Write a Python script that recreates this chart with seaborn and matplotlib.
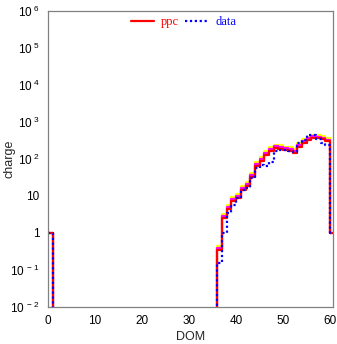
import numpy as np
import pandas as pd
import matplotlib
matplotlib.use("Agg")
import matplotlib.pyplot as plt
import seaborn as sns

# DOM bins 0..60 (bin i spans [i, i+1])
dom = list(range(61))

ppc_nonzero = {0: 1, 36: 0.35, 37: 2.6, 38: 4.4, 39: 7.3, 40: 8.8, 41: 14.5, 42: 19, 43: 32,
               44: 65, 45: 88, 46: 128, 47: 165, 48: 195, 49: 186, 50: 174, 51: 165, 52: 148,
               53: 215, 54: 275, 55: 325, 56: 370, 57: 360, 58: 340, 59: 295, 60: 1}
band2_nonzero = {0: 1, 36: 0.45, 37: 3.3, 38: 5.6, 39: 9.3, 40: 11.2, 41: 18.5, 42: 24, 43: 41,
                 44: 82, 45: 112, 46: 160, 47: 205, 48: 240, 49: 230, 50: 215, 51: 205, 52: 185,
                 53: 265, 54: 340, 55: 400, 56: 450, 57: 440, 58: 415, 59: 360, 60: 1}
band1_nonzero = {0: 1, 36: 0.39, 37: 2.9, 38: 4.9, 39: 8.1, 40: 9.8, 41: 16.1, 42: 21, 43: 36,
                 44: 72, 45: 98, 46: 142, 47: 183, 48: 216, 49: 206, 50: 193, 51: 183, 52: 164,
                 53: 238, 54: 305, 55: 360, 56: 410, 57: 400, 58: 377, 59: 327, 60: 1}
data_nonzero = {0: 1, 36: 0.15, 37: 1.0, 38: 3.5, 39: 5.7, 40: 9, 41: 14.5, 42: 16, 43: 30,
                44: 57, 45: 69, 46: 63, 47: 82, 48: 160, 49: 172, 50: 170, 51: 168, 52: 150,
                53: 270, 54: 325, 55: 445, 56: 445, 57: 340, 58: 265, 59: 240, 60: 1}

xticks = [0, 10, 20, 30, 40, 50, 60]
yticks = [1e-2, 1e-1, 1, 10, 1e2, 1e3, 1e4, 1e5, 1e6]
ytick_labels = [r"$10^{\ -2}$", r"$10^{\ -1}$", "1", "10", r"$10^{\ 2}$", r"$10^{\ 3}$",
                r"$10^{\ 4}$", r"$10^{\ 5}$", r"$10^{\ 6}$"]


def series(d):
    vals = [d.get(i, 0.0) for i in dom]
    x = dom + [dom[-1] + 1]
    y = vals + [vals[-1]]
    return pd.DataFrame({"DOM": x, "charge": y})


sns.set_style("white")
plt.rcParams["font.family"] = ["Liberation Sans", "DejaVu Sans"]
plt.rcParams["mathtext.fontset"] = "custom"
plt.rcParams["mathtext.rm"] = "Liberation Sans"
plt.rcParams["mathtext.it"] = "Liberation Sans"

fig = plt.figure(figsize=(3.37, 3.44), dpi=100)
ax = fig.add_axes([48 / 337, 1 - 307 / 344, (333 - 48) / 337, (307 - 10.7) / 344])

sns.lineplot(data=series(band2_nonzero), x="DOM", y="charge", ax=ax, color="#ffff00",
             linewidth=1.6, drawstyle="steps-post", estimator=None)
sns.lineplot(data=series(band1_nonzero), x="DOM", y="charge", ax=ax, color="#ff00ff",
             linewidth=1.6, drawstyle="steps-post", estimator=None)
sns.lineplot(data=series(ppc_nonzero), x="DOM", y="charge", ax=ax, color="#ff0000",
             linewidth=1.6, drawstyle="steps-post", estimator=None, label="ppc")
sns.lineplot(data=series(data_nonzero), x="DOM", y="charge", ax=ax, color="#0000ff",
             linewidth=1.6, drawstyle="steps-post", estimator=None, label="data",
             linestyle=(0, (1, 1.2)))

ax.set_yscale("log", nonpositive="clip")
ax.set_xlim(0, 60.6)
ax.set_ylim(1e-2, 1e6)

ax.set_xticks(xticks)
ax.set_xticklabels([str(t) for t in xticks])
ax.set_yticks(yticks)
ax.set_yticklabels(ytick_labels)
ax.xaxis.set_minor_locator(matplotlib.ticker.MultipleLocator(2))
ax.yaxis.set_minor_locator(matplotlib.ticker.LogLocator(base=10, subs=np.arange(2, 10), numticks=20))
ax.yaxis.set_minor_formatter(matplotlib.ticker.NullFormatter())

ax.tick_params(axis="both", which="both", direction="in", colors="#808080",
               labelcolor="black", labelsize=8.5, top=False, right=False)
ax.tick_params(axis="both", which="major", length=6, width=0.8)
ax.tick_params(axis="both", which="minor", length=3, width=0.8)
ax.tick_params(axis="x", pad=6)
ax.tick_params(axis="y", pad=6)

for s in ax.spines.values():
    s.set_color("#808080")
    s.set_linewidth(0.9)

ax.set_xlabel("DOM", fontsize=9, labelpad=3)
ax.set_ylabel("charge", fontsize=9)
ax.yaxis.set_label_coords(-0.115, 0.5)

leg = ax.legend(loc="upper center", bbox_to_anchor=(0.475, 1.02), ncol=2, frameon=False,
                prop={"family": "Liberation Serif", "size": 9}, handlelength=1.9,
                handletextpad=0.5, columnspacing=0.5, labelcolor="linecolor")

fig.savefig("out.png", dpi=100)
